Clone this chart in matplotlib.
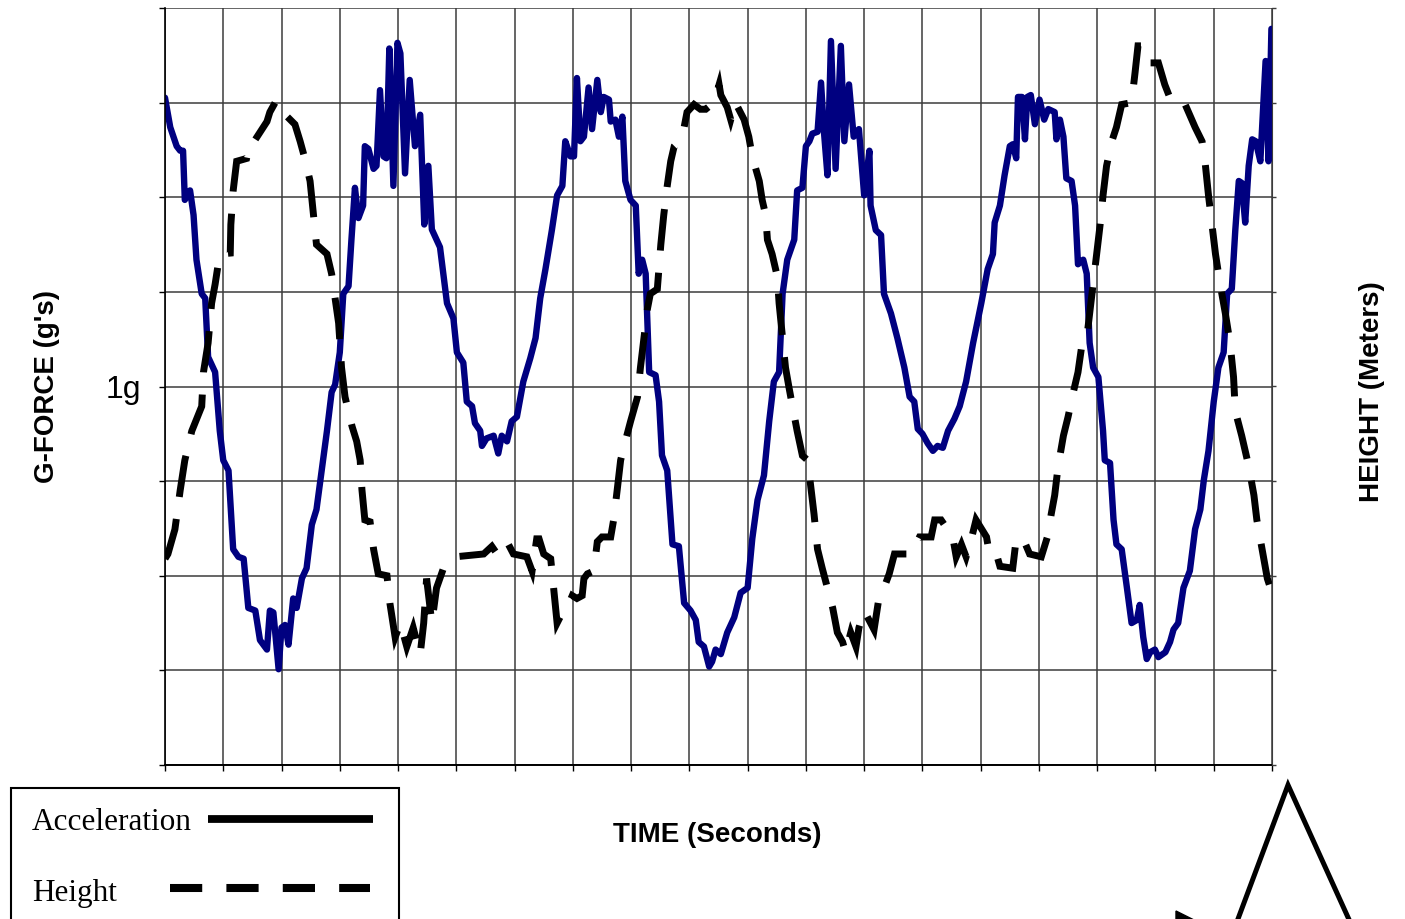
import matplotlib.pyplot as plt
from matplotlib.lines import Line2D
from matplotlib.patches import Rectangle, Polygon

# acceleration trace (time in s, g-force)
t_acc = [0.00, 0.09, 0.20, 0.26, 0.31, 0.34, 0.43, 0.49, 0.54, 0.63,
         0.69, 0.74, 0.86, 0.94, 1.00, 1.09, 1.17, 1.26, 1.35, 1.43,
         1.55, 1.63, 1.75, 1.80, 1.86, 1.95, 2.00, 2.06, 2.12, 2.20,
         2.26, 2.35, 2.43, 2.52, 2.60, 2.69, 2.78, 2.86, 2.92, 3.00,
         3.06, 3.15, 3.20, 3.26, 3.32, 3.40, 3.43, 3.49, 3.58, 3.63,
         3.69, 3.75, 3.80, 3.85, 3.92, 3.99, 4.04, 4.12, 4.20, 4.29,
         4.38, 4.45, 4.52, 4.58, 4.72, 4.84, 4.95, 5.01, 5.12, 5.18,
         5.27, 5.32, 5.41, 5.44, 5.52, 5.64, 5.72, 5.78, 5.87, 5.95,
         6.04, 6.15, 6.27, 6.36, 6.44, 6.53, 6.64, 6.73, 6.82, 6.87,
         6.96, 7.02, 7.07, 7.13, 7.19, 7.27, 7.33, 7.42, 7.48, 7.53,
         7.62, 7.65, 7.73, 7.79, 7.85, 7.90, 7.99, 8.08, 8.13, 8.19,
         8.25, 8.31, 8.42, 8.48, 8.53, 8.62, 8.71, 8.82, 8.91, 9.02,
         9.11, 9.16, 9.25, 9.34, 9.39, 9.45, 9.54, 9.65, 9.77, 9.88,
         10.00, 10.08, 10.17, 10.28, 10.37, 10.45, 10.54, 10.60, 10.68, 10.80,
         10.85, 10.94, 11.00, 11.06, 11.11, 11.20, 11.26, 11.31, 11.37, 11.43,
         11.51, 11.60, 11.66, 11.74, 11.82, 11.91, 12.00, 12.09, 12.11, 12.20,
         12.29, 12.34, 12.46, 12.57, 12.69, 12.78, 12.86, 12.92, 13.00, 13.09,
         13.18, 13.26, 13.35, 13.44, 13.55, 13.64, 13.75, 13.87, 14.01, 14.12,
         14.21, 14.24, 14.33, 14.41, 14.50, 14.55, 14.61, 14.64, 14.71, 14.76,
         14.80, 14.86, 14.93, 15.01, 15.09, 15.16, 15.27, 15.30, 15.36, 15.42,
         15.47, 15.56, 15.62, 15.67, 15.76, 15.82, 15.87, 15.93, 16.02, 16.10,
         16.13, 16.22, 16.28, 16.33, 16.42, 16.51, 16.59, 16.68, 16.73, 16.79,
         16.85, 16.91, 16.99, 17.05, 17.17, 17.25, 17.31, 17.39, 17.48, 17.59,
         17.68, 17.77, 17.83, 17.91, 18.00, 18.08, 18.17, 18.23, 18.31, 18.37,
         18.43, 18.48, 18.54, 18.60, 18.66, 18.72, 18.80, 18.89, 18.94, 18.99]
g_acc = [1.763, 1.685, 1.635, 1.623, 1.623, 1.493, 1.518, 1.453, 1.335, 1.245,
         1.233, 1.078, 1.038, 0.883, 0.805, 0.778, 0.570, 0.550, 0.545, 0.415,
         0.408, 0.330, 0.305, 0.408, 0.403, 0.253, 0.363, 0.370, 0.318, 0.440,
         0.415, 0.493, 0.520, 0.635, 0.675, 0.778, 0.883, 0.985, 1.005, 1.090,
         1.245, 1.265, 1.388, 1.525, 1.445, 1.478, 1.635, 1.628, 1.575, 1.583,
         1.783, 1.608, 1.603, 1.893, 1.530, 1.908, 1.880, 1.563, 1.810, 1.635,
         1.718, 1.428, 1.583, 1.415, 1.368, 1.220, 1.180, 1.090, 1.063, 0.960,
         0.948, 0.903, 0.883, 0.843, 0.863, 0.870, 0.823, 0.870, 0.855, 0.908,
         0.920, 1.013, 1.075, 1.128, 1.233, 1.310, 1.413, 1.505, 1.530, 1.648,
         1.608, 1.608, 1.815, 1.648, 1.660, 1.790, 1.680, 1.810, 1.725, 1.765,
         1.758, 1.700, 1.705, 1.660, 1.713, 1.543, 1.493, 1.478, 1.298, 1.335,
         1.298, 1.038, 1.030, 0.960, 0.818, 0.778, 0.583, 0.578, 0.428, 0.408,
         0.383, 0.325, 0.313, 0.260, 0.273, 0.305, 0.293, 0.350, 0.390, 0.455,
         0.468, 0.598, 0.700, 0.765, 0.908, 1.013, 1.038, 1.245, 1.335, 1.388,
         1.518, 1.525, 1.635, 1.648, 1.668, 1.673, 1.803, 1.673, 1.558, 1.913,
         1.575, 1.900, 1.648, 1.798, 1.660, 1.680, 1.505, 1.623, 1.478, 1.413,
         1.400, 1.245, 1.193, 1.128, 1.050, 0.973, 0.960, 0.888, 0.875, 0.850,
         0.830, 0.843, 0.838, 0.883, 0.915, 0.948, 1.013, 1.115, 1.220, 1.310,
         1.350, 1.433, 1.478, 1.558, 1.635, 1.640, 1.603, 1.765, 1.765, 1.653,
         1.765, 1.770, 1.693, 1.758, 1.705, 1.733, 1.725, 1.653, 1.705, 1.660,
         1.550, 1.543, 1.478, 1.323, 1.335, 1.298, 1.115, 1.050, 1.025, 0.883,
         0.805, 0.798, 0.648, 0.583, 0.570, 0.468, 0.375, 0.383, 0.423, 0.338,
         0.280, 0.298, 0.305, 0.285, 0.298, 0.325, 0.358, 0.375, 0.468, 0.513,
         0.623, 0.675, 0.753, 0.830, 0.960, 1.050, 1.090, 1.245, 1.258, 1.413,
         1.543, 1.538, 1.433, 1.583, 1.653, 1.648, 1.595, 1.860, 1.595, 1.945]

# height trace (time in s, metres)
t_h = [0.00, 0.05, 0.17, 0.26, 0.34, 0.46, 0.63, 0.66, 0.74, 0.80,
       0.86, 0.94, 1.12, 1.13, 1.17, 1.23, 1.40, 1.46, 1.55, 1.75,
       1.80, 1.89, 1.95, 2.10, 2.23, 2.32, 2.40, 2.49, 2.55, 2.60,
       2.69, 2.78, 2.86, 2.92, 2.98, 3.03, 3.09, 3.21, 3.29, 3.35,
       3.38, 3.43, 3.52, 3.58, 3.66, 3.81, 3.86, 3.95, 4.04, 4.15,
       4.26, 4.38, 4.44, 4.49, 4.58, 4.66, 4.78, 4.98, 5.47, 5.61,
       5.70, 5.87, 5.98, 6.21, 6.30, 6.38, 6.42, 6.50, 6.62, 6.67,
       6.73, 6.82, 6.90, 6.99, 7.07, 7.16, 7.19, 7.25, 7.36, 7.42,
       7.50, 7.65, 7.70, 7.76, 7.82, 7.90, 7.99, 8.11, 8.16, 8.22,
       8.28, 8.33, 8.45, 8.51, 8.56, 8.62, 8.68, 8.74, 8.82, 8.91,
       8.96, 9.08, 9.19, 9.28, 9.42, 9.51, 9.54, 9.65, 9.71, 9.79,
       9.94, 10.02, 10.08, 10.20, 10.25, 10.31, 10.34, 10.42, 10.51, 10.54,
       10.60, 10.65, 10.71, 10.77, 10.85, 10.94, 11.03, 11.08, 11.14, 11.20,
       11.28, 11.37, 11.46, 11.54, 11.63, 11.68, 11.77, 11.86, 11.91, 12.00,
       12.17, 12.26, 12.34, 12.43, 12.52, 12.80, 12.95, 13.15, 13.21, 13.32,
       13.52, 13.58, 13.67, 13.75, 13.84, 13.92, 14.10, 14.15, 14.27, 14.33,
       14.55, 14.61, 14.73, 14.84, 15.04, 15.16, 15.21, 15.27, 15.33, 15.42,
       15.50, 15.59, 15.67, 15.73, 15.82, 15.87, 15.93, 15.99, 16.05, 16.10,
       16.16, 16.25, 16.33, 16.42, 16.59, 16.65, 16.70, 16.79, 16.88, 17.05,
       17.16, 17.28, 17.51, 17.68, 17.80, 17.85, 17.91, 17.97, 18.03, 18.11,
       18.20, 18.28, 18.34, 18.37, 18.48, 18.60, 18.69, 18.74, 18.83, 18.92,
       19.00]
h = [10.9, 11.15, 12.45, 14.5, 16.1, 17.65, 18.95, 20.75, 22.3, 24.4,
     25.4, 27.0, 27.05, 28.55, 30.35, 31.9, 32.05, 32.95, 33.05, 34.0,
     34.5, 35.0, 34.35, 34.25, 33.85, 32.95, 32.05, 30.85, 29.05, 27.5,
     27.25, 27.0, 25.95, 24.65, 23.35, 21.0, 19.45, 17.9, 17.1, 16.1,
     14.55, 12.95, 12.85, 11.4, 10.1, 10.0, 8.55, 6.75, 7.5, 6.25,
     7.25, 5.85, 7.5, 9.85, 7.5, 9.35, 10.4, 11.0, 11.15, 11.55,
     11.15, 11.8, 11.15, 11.0, 10.25, 11.95, 11.95, 11.15, 10.9, 9.35,
     7.5, 8.05, 8.3, 8.95, 8.8, 8.95, 9.85, 10.1, 10.25, 11.8,
     12.05, 12.05, 12.95, 14.5, 16.1, 17.1, 18.15, 19.45, 21.0, 22.55,
     24.1, 24.9, 25.15, 27.5, 29.05, 30.6, 31.9, 32.7, 32.95, 33.7,
     34.5, 34.9, 34.65, 34.65, 35.0, 35.95, 35.4, 34.75, 34.1, 35.0,
     34.1, 33.2, 32.15, 30.85, 29.85, 29.05, 27.75, 27.0, 25.8, 24.4,
     22.55, 21.0, 19.95, 18.95, 17.65, 16.35, 16.1, 14.8, 13.25, 11.4,
     10.4, 9.35, 8.3, 7.0, 6.5, 5.95, 7.0, 6.25, 7.25, 8.15,
     7.15, 8.95, 9.35, 10.1, 11.15, 11.15, 12.05, 12.05, 12.95, 12.95,
     12.05, 11.0, 11.65, 11.0, 11.95, 12.95, 12.05, 11.15, 11.15, 10.5,
     10.4, 11.95, 11.95, 11.15, 11.0, 12.2, 13.25, 14.25, 15.8, 17.4,
     18.4, 19.7, 20.75, 22.05, 22.55, 23.85, 25.4, 27.0, 28.55, 30.1,
     31.65, 32.95, 33.7, 34.9, 35.0, 36.6, 38.0, 38.0, 37.1, 37.1,
     35.95, 35.0, 34.9, 33.7, 32.95, 31.9, 30.1, 28.55, 27.0, 25.4,
     23.85, 22.3, 20.5, 18.7, 17.4, 15.8, 14.25, 12.95, 11.4, 9.85,
     9.1]

W, H = 1405, 919

def fx(x):
    return x / W

def fy(y):
    return 1 - y / H

fig = plt.figure(figsize=(W / 100, H / 100), dpi=100)
ax = fig.add_axes([fx(165), fy(765), fx(1272) - fx(165), fy(8) - fy(765)])
ax2 = ax.twinx()

grid_col = '#3c3c3c'
ax.set_xlim(0, 19)
ax.set_ylim(0, 2)
ax2.set_ylim(0, 40)
ax.set_xticks(range(20))
ax.set_xticklabels([])
ax.set_yticks([i * 0.25 for i in range(9)])
ax.set_yticklabels(['' if i != 4 else '1g' for i in range(9)],
                   fontsize=23, family='Liberation Sans')
ax2.set_yticks(range(0, 41, 5))
ax2.set_yticklabels([])
ax.grid(True, color=grid_col, lw=1.1)
ax.set_axisbelow(True)

for s in ['top', 'right']:
    ax.spines[s].set_visible(False)
for s in ['top', 'left', 'bottom']:
    ax2.spines[s].set_visible(False)
ax2.spines['right'].set_color(grid_col)
ax.spines['left'].set_linewidth(1.2)
ax.spines['bottom'].set_linewidth(1.4)
ax.tick_params(axis='y', direction='out', length=4, width=1, pad=13)
ax.tick_params(axis='x', direction='out', length=4.5, width=1)
ax2.tick_params(axis='y', direction='out', length=3, width=1, color=grid_col)

ax.plot(t_acc, g_acc, color='#000080', lw=4.6, solid_joinstyle='round',
        solid_capstyle='round')
ax2.plot(t_h, h, color='black', lw=5.0, dashes=(6.0, 3.2),
         dash_capstyle='butt', dash_joinstyle='miter')

fig.text(fx(47), fy(386), "G-FORCE (g's)", rotation=90, ha='center', va='center',
         fontsize=20, fontweight='bold', family='Liberation Sans')
fig.text(fx(1372), fy(392), 'HEIGHT (Meters)', rotation=90, ha='center', va='center',
         fontsize=20, fontweight='bold', family='Liberation Sans')
fig.text(fx(717), fy(835), 'TIME (Seconds)', ha='center', va='center',
         fontsize=20, fontweight='bold', family='Liberation Sans')

# legend box
fig.add_artist(Rectangle((fx(11), fy(940)), fx(399) - fx(11), fy(788) - fy(940),
                         transform=fig.transFigure, fill=False, ec='black', lw=1.5))
fig.text(fx(32), fy(822), 'Acceleration', ha='left', va='center',
         fontsize=22.5, family='Liberation Serif')
fig.text(fx(32), fy(893), 'Height', ha='left', va='center',
         fontsize=22.5, family='Liberation Serif')
fig.add_artist(Line2D([fx(208), fx(373)], [fy(819), fy(819)], transform=fig.transFigure,
                      color='black', lw=5.6, solid_capstyle='butt'))
fig.add_artist(Line2D([fx(170), fx(370)], [fy(888), fy(888)], transform=fig.transFigure,
                      color='black', lw=5.8, dashes=(4, 3), dash_capstyle='butt'))

# shape at lower right
fig.add_artist(Line2D([fx(1232), fx(1288), fx(1356)], [fy(935), fy(785), fy(935)],
                      transform=fig.transFigure, color='black', lw=3.6,
                      solid_joinstyle='miter'))
fig.add_artist(Polygon([(fx(1176), fy(911)), (fx(1194), fy(920)), (fx(1176), fy(922))],
                       closed=True, transform=fig.transFigure, color='black'))

fig.savefig('out.png', dpi=100)
